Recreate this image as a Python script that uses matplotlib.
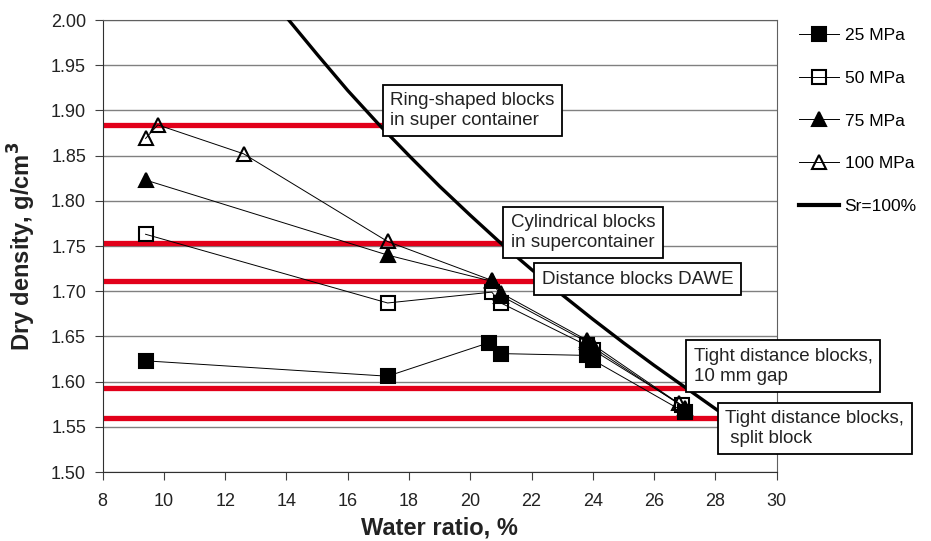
"""Dry density vs water ratio for compacted bentonite blocks."""
import matplotlib
matplotlib.use("Agg")
import matplotlib.pyplot as plt
from matplotlib.lines import Line2D
from matplotlib.ticker import FormatStrFormatter

plt.rcParams['font.family'] = ['Liberation Sans', 'DejaVu Sans']

# measured blocks, one list per compaction pressure
w_25 = [9.4, 17.3, 20.6, 21.0, 23.8, 24.0, 27.0]
rho_25 = [1.623, 1.606, 1.643, 1.631, 1.629, 1.624, 1.566]
w_50 = [9.4, 17.3, 20.7, 21.0, 23.8, 24.0, 26.9]
rho_50 = [1.763, 1.687, 1.699, 1.687, 1.640, 1.635, 1.574]
w_75 = [9.4, 17.3, 20.7, 21.0, 23.8, 24.0, 27.0]
rho_75 = [1.823, 1.740, 1.711, 1.695, 1.644, 1.638, 1.571]
w_100 = [9.4, 9.8, 12.6, 17.3, 20.7, 21.0, 23.8, 24.0, 26.8]
rho_100 = [1.869, 1.884, 1.852, 1.755, 1.712, 1.698, 1.646, 1.641, 1.576]

w_sat = [14, 15, 16, 17, 18, 19, 20, 21, 22, 23, 24, 25, 26, 27, 28, 29, 30]
rho_sat = [2.003, 1.962, 1.922, 1.885, 1.850, 1.816, 1.784, 1.753, 1.724,
           1.696, 1.669, 1.643, 1.618, 1.594, 1.570, 1.546, 1.522]

# target densities for the block types, with where each label box sits
target_rho = [1.884, 1.753, 1.711, 1.593, 1.560]
target_end = [17.13, 21.07, 22.08, 27.05, 28.08]
target_box_y = [1.900, 1.765, 1.713, 1.617, 1.548]
target_labels = ["Ring-shaped blocks\nin super container",
                 "Cylindrical blocks\nin supercontainer",
                 "Distance blocks DAWE",
                 "Tight distance blocks,\n10 mm gap",
                 "Tight distance blocks,\n split block"]

series = [
    (w_25, rho_25, "s", "black", "25 MPa"),
    (w_50, rho_50, "s", "none", "50 MPa"),
    (w_75, rho_75, "^", "black", "75 MPa"),
    (w_100, rho_100, "^", "none", "100 MPa"),
]

fig = plt.figure(figsize=(9.31, 5.41), dpi=100)
ax = fig.add_axes([0.1103, 0.1275, 0.7239, 0.8355])

for y, x_end in zip(target_rho, target_end):
    ax.plot([8, x_end], [y, y], color="#e2001a", linewidth=3.8, zorder=2,
            solid_capstyle="butt")

handles = []
for w, rho, mk, fc, label in series:
    ax.plot(w, rho, color="black", linewidth=0.7, zorder=3)
    ax.plot(w, rho, linestyle="none", marker=mk, markersize=10,
            markerfacecolor=fc, markeredgecolor="black", markeredgewidth=1.5,
            zorder=4)
    handles.append(Line2D([], [], color="black", linewidth=0.7, marker=mk,
                          markersize=10, markerfacecolor=fc,
                          markeredgecolor="black", markeredgewidth=1.5,
                          label=label))

ax.plot(w_sat, rho_sat, color="black", linewidth=2.4, zorder=5)
handles.append(Line2D([], [], color="black", linewidth=3.0, label="Sr=100%"))

for x, y, txt in zip(target_end, target_box_y, target_labels):
    ax.text(x + 0.25, y, txt, fontsize=13.5, ha="left", va="center", zorder=6,
            linespacing=1.2, color="#222222",
            bbox=dict(boxstyle="square,pad=0.4", facecolor="white",
                      edgecolor="black", linewidth=1.3))

ax.set_xlim(8, 30)
ax.set_ylim(1.50, 2.00)
ax.set_xticks(range(8, 31, 2))
ax.set_yticks([1.50 + 0.05 * i for i in range(11)])
ax.yaxis.set_major_formatter(FormatStrFormatter('%.2f'))
ax.tick_params(labelsize=13, length=6, color="#404040", labelcolor="#222222")
ax.tick_params(axis="x", pad=9)
ax.tick_params(axis="y", pad=6)
ax.grid(True, axis="y", color="#808080", linewidth=1.0)
ax.set_axisbelow(True)
for side in ["top", "right"]:
    ax.spines[side].set_color("#606060")
for side in ["left", "bottom"]:
    ax.spines[side].set_color("#303030")

ax.set_xlabel("Water ratio, %", fontsize=17, fontweight="bold", labelpad=5,
              color="#222222")
ax.set_ylabel("Dry density, g/cm$^\\mathbf{3}$", fontsize=17, fontweight="bold",
              labelpad=9, color="#222222")

fig.legend(handles=handles, loc="upper left", bbox_to_anchor=(0.841, 0.978),
           frameon=False, fontsize=12.5, handlelength=2.3, labelspacing=1.6,
           handletextpad=0.35)

fig.savefig("out.png", dpi=100)
